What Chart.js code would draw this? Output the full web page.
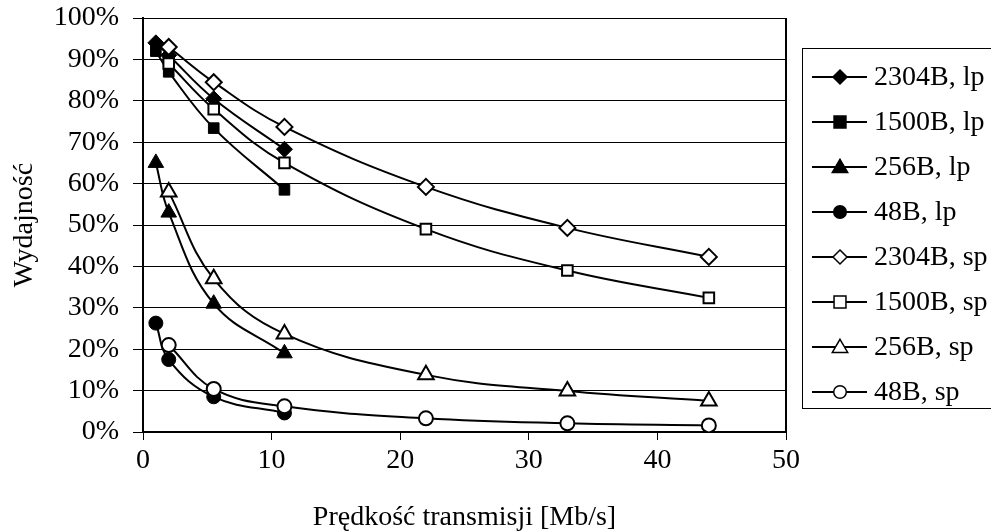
<!DOCTYPE html>
<html>
<head>
<meta charset="utf-8">
<script src="https://cdn.jsdelivr.net/npm/chart.js@4/dist/chart.umd.min.js"></script>
<style>
  html, body { margin: 0; padding: 0; background: #fff; }
  #wrap { width: 991px; height: 532px; }
</style>
</head>
<body>
<div id="wrap"><canvas id="chart" width="991" height="532"></canvas></div>
<script>
// x values (Mb/s)
const xLp = [1, 2, 5.5, 11];
const xSp = [2, 5.5, 11, 22, 33, 44];

// efficiency in %
const lp2304 = [94, 91, 80.5, 68.3];
const lp1500 = [92, 87, 73.4, 58.5];
const lp256 = [65, 53, 31, 19];
const lp48 = [26.3, 17.5, 8.5, 4.6];
const sp2304 = [93, 84.5, 73.7, 59.2, 49.3, 42.3];
const sp1500 = [89, 78, 65, 49, 39, 32.4];
const sp256 = [58, 37, 23.7, 13.8, 9.9, 7.5];
const sp48 = [21, 10.4, 6.2, 3.3, 2.1, 1.6];

const seriesNames = ['2304B, lp', '1500B, lp', '256B, lp', '48B, lp',
                     '2304B, sp', '1500B, sp', '256B, sp', '48B, sp'];
const seriesValues = [lp2304, lp1500, lp256, lp48, sp2304, sp1500, sp256, sp48];
const seriesStyles = ['rectRot', 'rect', 'triangle', 'circle', 'rectRot', 'rect', 'triangle', 'circle'];
const xTicks = [0, 10, 20, 30, 40, 50];

const FONT = "'Liberation Serif', 'Times New Roman', serif";

function toPoints(xs, ys) {
  return ys.map((y, i) => ({ x: xs[i], y: y }));
}

const datasets = seriesValues.map((vals, i) => {
  const filled = i < 4;
  const st = seriesStyles[i];
  let r = 7;
  if (st === 'triangle') r = 9;
  if (st === 'rect') r = 7.5;
  if (st === 'rectRot') r = 8;
  return {
    label: seriesNames[i],
    data: toPoints(filled ? xLp : xSp, vals),
    borderColor: '#000',
    borderWidth: 2,
    pointStyle: st,
    pointRadius: r,
    pointBackgroundColor: filled ? '#000' : '#fff',
    pointBorderColor: '#000',
    pointBorderWidth: filled ? 1 : 2,
    tension: 0.4,
    fill: false,
    order: 8 - i
  };
});

function drawMarker(ctx, style, x, y, r, filled) {
  ctx.beginPath();
  if (style === 'rectRot') {
    ctx.moveTo(x, y - r); ctx.lineTo(x + r, y); ctx.lineTo(x, y + r); ctx.lineTo(x - r, y);
    ctx.closePath();
  } else if (style === 'rect') {
    const s = r * 0.85;
    ctx.rect(x - s, y - s, 2 * s, 2 * s);
  } else if (style === 'triangle') {
    const h = r * 1.1;
    ctx.moveTo(x, y - h); ctx.lineTo(x + h, y + h * 0.7); ctx.lineTo(x - h, y + h * 0.7);
    ctx.closePath();
  } else {
    ctx.arc(x, y, r * 0.9, 0, Math.PI * 2);
  }
  ctx.fillStyle = filled ? '#000' : '#fff';
  ctx.fill();
  ctx.lineWidth = 1.5;
  ctx.strokeStyle = '#000';
  ctx.stroke();
}

const frameAndLegend = {
  id: 'frameAndLegend',
  afterDraw(chart) {
    const ctx = chart.ctx;
    const a = chart.chartArea;
    ctx.save();
    // right border of plot area
    ctx.strokeStyle = '#000';
    ctx.lineWidth = 2;
    ctx.beginPath();
    ctx.moveTo(a.right, a.top);
    ctx.lineTo(a.right, a.bottom);
    ctx.stroke();

    // legend box
    ctx.lineWidth = 1;
    ctx.strokeRect(802.5, 48.5, 195, 360);
    ctx.font = '28px ' + FONT;
    ctx.textBaseline = 'middle';
    ctx.fillStyle = '#000';
    seriesNames.forEach((name, i) => {
      const y = 77 + i * 45;
      ctx.lineWidth = 2;
      ctx.beginPath();
      ctx.moveTo(812, y);
      ctx.lineTo(867, y);
      ctx.stroke();
      drawMarker(ctx, seriesStyles[i], 840, y, 7, i < 4);
      ctx.fillStyle = '#000';
      ctx.fillText(name, 874, y + 1);
    });
    ctx.restore();
  }
};

new Chart(document.getElementById('chart').getContext('2d'), {
  type: 'line',
  data: { datasets: datasets },
  plugins: [frameAndLegend],
  options: {
    responsive: false,
    animation: false,
    layout: { padding: { left: 0, right: 205, top: 18, bottom: 0 } },
    plugins: {
      legend: { display: false },
      tooltip: { enabled: false }
    },
    scales: {
      x: {
        type: 'linear',
        min: 0,
        max: 50,
        afterFit(scale) {
          scale.height = 100;
          scale.paddingLeft = 0;
          scale.paddingRight = 0;
        },
        afterBuildTicks(scale) { scale.ticks = xTicks.map(v => ({ value: v })); },
        grid: { drawOnChartArea: false, drawTicks: true, tickLength: 8, color: '#000', lineWidth: 1 },
        border: { color: '#000', width: 2 },
        ticks: { color: '#000', font: { family: FONT, size: 28 }, padding: 4, maxRotation: 0 },
        title: {
          display: true,
          text: 'Prędkość transmisji [Mb/s]',
          color: '#000',
          font: { family: FONT, size: 28 },
          padding: { top: 0, bottom: -2 }
        }
      },
      y: {
        min: 0,
        max: 100,
        afterFit(scale) {
          scale.width = 143;
          scale.paddingTop = 0;
          scale.paddingBottom = 0;
        },
        ticks: {
          stepSize: 10,
          color: '#000',
          font: { family: FONT, size: 28 },
          padding: 14,
          callback: v => v + '%'
        },
        grid: { color: '#000', lineWidth: 1, drawTicks: true, tickLength: 10 },
        border: { color: '#000', width: 2 },
        title: {
          display: true,
          text: 'Wydajność',
          color: '#000',
          font: { family: FONT, size: 28 },
          padding: { top: 8, bottom: 0 }
        }
      }
    }
  }
});
</script>
</body>
</html>
